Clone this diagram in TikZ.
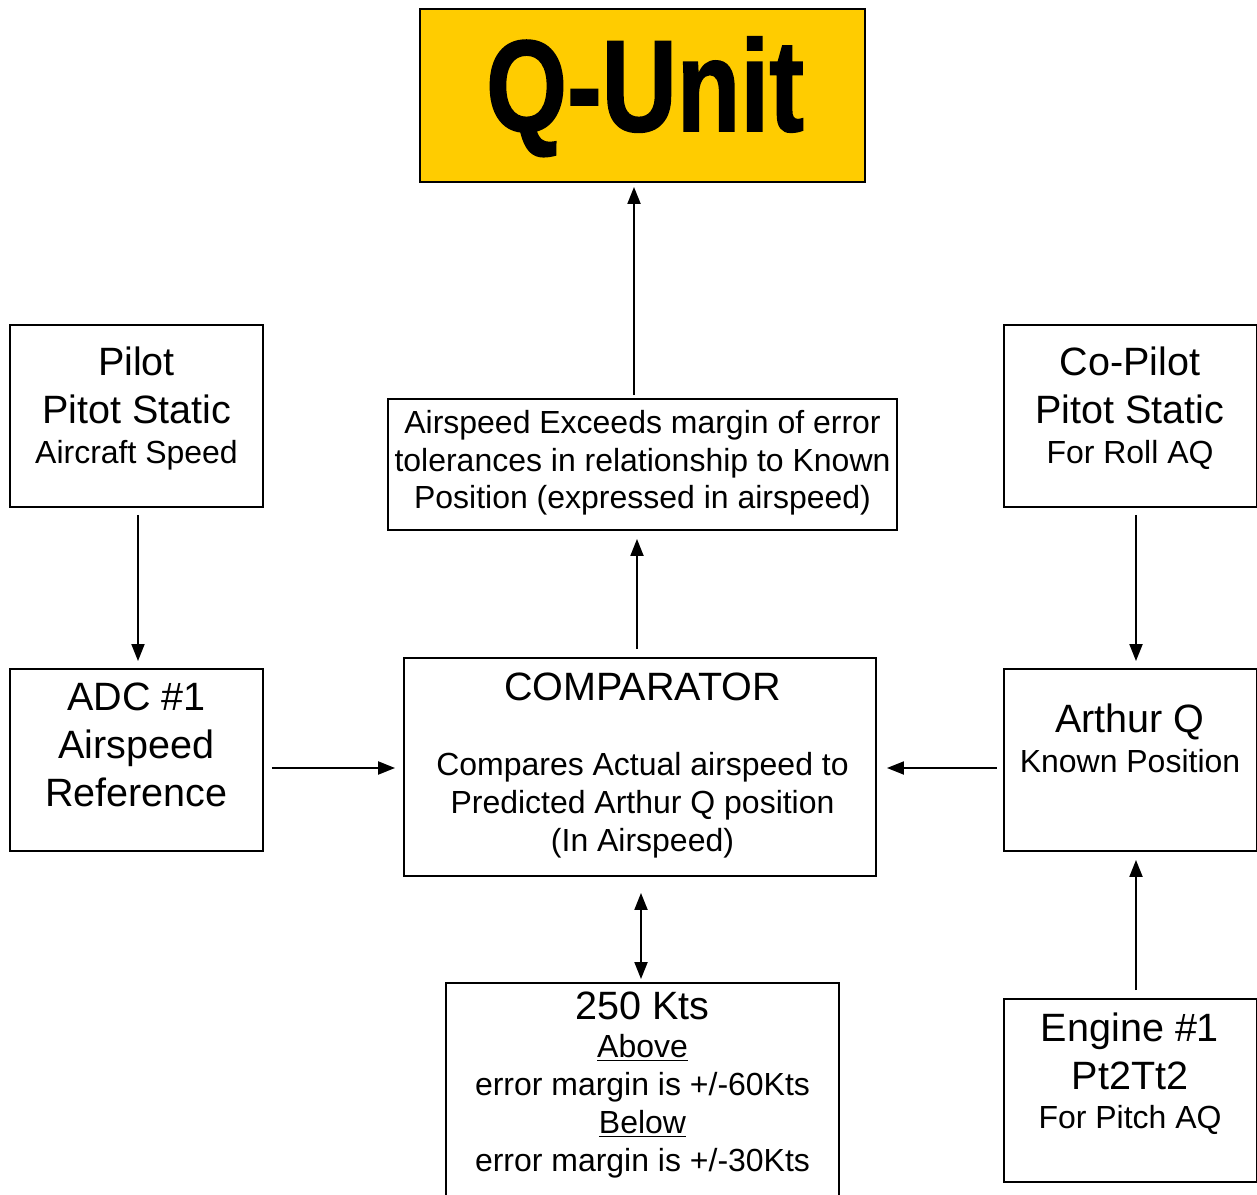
\documentclass[tikz,border=0pt]{standalone}
\usepackage{fontspec}
\setmainfont{Liberation Sans}
\newfontfamily\qfont[BoldFeatures={FakeBold=1.5}]{Liberation Sans}
\usepackage{graphicx}
\usetikzlibrary{arrows.meta, positioning}
\definecolor{qyellow}{HTML}{FFCC00}
\newcommand{\bigtxt}{\fontsize{22.5}{27.2}\selectfont}
\newcommand{\smalltxt}{\fontsize{18.2}{21.5}\selectfont}
\tikzstyle{blockbox} = [draw=black, line width=1.1pt, rectangle, inner sep=0pt, minimum width=5.06cm, minimum height=3.64cm]
\tikzstyle{blocktext} = [inner sep=0pt, align=center, anchor=base]
\tikzstyle{flow} = [line width=1.1pt, >={Triangle[length=0.34cm, width=0.26cm]}]

\begin{document}
\begin{tikzpicture}[x=0.02cm, y=-0.02cm]
	\useasboundingbox (0,0) rectangle (1257,1195);
	\clip (0,0) rectangle (1257,1195);
	\node[blockbox, fill=qyellow, minimum width=8.9cm, minimum height=3.46cm] (qunit) at (642.5,95.5) {};
	\node[blockbox] (pilot) at (136.5,416) {};
	\node[blockbox] (copilot) at (1130,416) {};
	\node[blockbox, minimum width=10.18cm, minimum height=2.62cm] (exceeds) at (642.5,464.5) {};
	\node[blockbox] (adc) at (136.5,760) {};
	\node[blockbox, minimum width=9.44cm, minimum height=4.36cm] (comp) at (640,767) {};
	\node[blockbox] (arthur) at (1130,760) {};
	\node[blockbox, minimum width=7.86cm, minimum height=4.64cm] (kts) at (642.5,1099) {};
	\node[blockbox, minimum height=3.66cm] (engine) at (1130,1090.5) {};

	\node[blocktext] (qunittxt) at (645,131) {\fontsize{74}{80}\selectfont\qfont\bfseries\scalebox{0.8}[1]{Q-Unit}};
	\node[blocktext, font=\bigtxt] (pilottxt) at (136.5,464) {Pilot\\Pitot Static\\[-4pt]{\smalltxt Aircraft Speed}};
	\node[blocktext, font=\bigtxt] (copilottxt) at (1130,464) {Co-Pilot\\Pitot Static\\[-4pt]{\smalltxt For Roll AQ}};
	\node[blocktext, font=\smalltxt] (exceedstxt) at (642.5,509) {Airspeed Exceeds margin of error\\tolerances in relationship to Known\\Position (expressed in airspeed)};
	\node[blocktext, font=\bigtxt] (adctxt) at (136.5,806) {ADC \#1\\Airspeed\\Reference};
	\node[blocktext, font=\smalltxt] (comptxt) at (642.5,851) {{\bigtxt COMPARATOR}\\[21pt]Compares Actual airspeed to\\Predicted Arthur Q position\\(In Airspeed)};
	\node[blocktext, font=\bigtxt] (arthurtxt) at (1130,772) {Arthur Q\\[-5pt]{\smalltxt Known Position}};
	\node[blocktext, font=\smalltxt] (ktstxt) at (642.5,1171) {{\bigtxt 250 Kts}\\\underline{Above}\\error margin is +/-60Kts\\\underline{Below}\\error margin is +/-30Kts};
	\node[blocktext, font=\bigtxt] (enginetxt) at (1130,1128) {Engine \#1\\Pt2Tt2\\[-5pt]{\smalltxt For Pitch AQ}};

	\draw[flow, ->, shorten <=0.06cm, shorten >=0.08cm] ([xshift=-0.17cm]exceeds.north) -- ([xshift=-0.17cm]exceeds.north |- qunit.south);
	\draw[flow, ->, shorten <=0.16cm, shorten >=0.16cm] ([xshift=-0.06cm]comp.north) -- ([xshift=-0.06cm]comp.north |- exceeds.south);
	\draw[flow, ->, shorten <=0.14cm, shorten >=0.14cm] ([xshift=0.03cm]pilot.south) -- ([xshift=0.03cm]adc.north);
	\draw[flow, ->, shorten <=0.14cm, shorten >=0.14cm] ([xshift=0.12cm]copilot.south) -- ([xshift=0.12cm]arthur.north);
	\draw[flow, ->, shorten <=0.16cm, shorten >=0.16cm] ([yshift=-0.16cm]adc.east) -- ([yshift=-0.16cm]adc.east -| comp.west);
	\draw[flow, ->, shorten <=0.12cm, shorten >=0.2cm] ([yshift=-0.16cm]arthur.west) -- ([yshift=-0.16cm]arthur.west -| comp.east);
	\draw[flow, <->, shorten <=0.32cm, shorten >=0.06cm] ([xshift=0.02cm]comp.south) -- ([xshift=0.02cm]comp.south |- kts.north);
	\draw[flow, ->, shorten <=0.16cm, shorten >=0.16cm] ([xshift=0.12cm]engine.north) -- ([xshift=0.12cm]arthur.south);
\end{tikzpicture}
\end{document}
